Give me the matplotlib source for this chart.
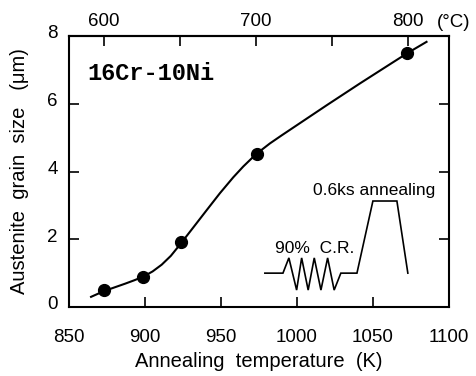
import matplotlib
matplotlib.use("Agg")
import matplotlib.pyplot as plt
from matplotlib.transforms import ScaledTranslation

plt.rcParams['font.family'] = ['Liberation Sans', 'DejaVu Sans']

# measured points
temp_K = [873, 898.5, 923.5, 973.5, 1072.5]
grain_um = [0.50, 0.90, 1.92, 4.51, 7.51]

# smooth fitted curve
curve_K = [864.5, 873, 880, 887, 893, 899, 905, 911, 917, 923.5, 931.8, 940.6,
           949.3, 958.1, 964.7, 973, 982.2, 990, 1000, 1020, 1041.4, 1063,
           1072.8, 1085.3]
curve_um = [0.30, 0.47, 0.58, 0.69, 0.79, 0.90, 1.05, 1.25, 1.51, 1.87, 2.35, 2.86,
            3.36, 3.83, 4.15, 4.51, 4.83, 5.07, 5.37, 5.97, 6.60, 7.22,
            7.50, 7.83]

# schematic of process (drawn in data coordinates)
sch_x = [978.9, 990.8, 994.7, 999.8, 1003.1, 1007.4, 1011.4, 1015.8, 1020.2, 1024.5,
         1028.9, 1039.5, 1050, 1065.8, 1073]
sch_y = [1.0, 1.0, 1.45, 0.5, 1.45, 0.5, 1.45, 0.5, 1.45, 0.5,
         1.0, 1.0, 3.13, 3.13, 1.0]

x_ticks = [850, 900, 950, 1000, 1050, 1100]
y_ticks = [0, 2, 4, 6, 8]
top_ticks_C = [600, 650, 700, 750, 800]
top_labels = ['600', '', '700', '', '800']

fig = plt.figure(figsize=(4.76, 3.76), dpi=100)
ax = fig.add_axes([0.145, 0.1835, 0.798, 0.7205])

ax.plot(curve_K, curve_um, color='black', lw=1.5, zorder=2)
ax.plot(temp_K, grain_um, 'o', color='black', ms=8.5, zorder=3)
ax.plot(sch_x, sch_y, color='black', lw=1.2, solid_joinstyle='miter', zorder=2)

ax.text(1012, 1.74, '90%  C.R.', ha='center', va='center', fontsize=12.5)
ax.text(1051, 3.45, '0.6ks annealing', ha='center', va='center', fontsize=12.5)
ax.text(862, 6.91, '16Cr-10Ni', ha='left', va='center', fontsize=17,
        family=['Liberation Mono', 'DejaVu Sans Mono'], fontweight='bold')

ax.set_xlim(850, 1100)
ax.set_ylim(0, 8)
ax.set_xticks(x_ticks)
ax.set_yticks(y_ticks)
ax.tick_params(axis='both', direction='in', length=7, width=1.2, labelsize=13.5)
ax.tick_params(axis='x', pad=16)
ax.tick_params(axis='y', pad=8, right=True, labelright=False)
for s in ax.spines.values():
    s.set_linewidth(1.5)

shift = ScaledTranslation(0, 3 / 72, fig.dpi_scale_trans)
for lab in ax.get_yticklabels():
    lab.set_transform(lab.get_transform() + shift)

ax.set_xlabel('Annealing  temperature  (K)', fontsize=14.5, labelpad=4)
ax.set_ylabel('Austenite  grain  size   (\u03bcm)', fontsize=14.5, labelpad=13)

sec = ax.secondary_xaxis('top', functions=(lambda k: k - 273, lambda c: c + 273))
sec.set_xticks(top_ticks_C)
sec.set_xticklabels(top_labels)
sec.tick_params(direction='in', length=7, width=1.2, labelsize=13.5, pad=4.5)
sec.spines['top'].set_linewidth(1.5)
fig.text(0.952, 0.941, '(\u00b0C)', ha='center', va='center', fontsize=13.5)

fig.savefig('out.png', dpi=100)
